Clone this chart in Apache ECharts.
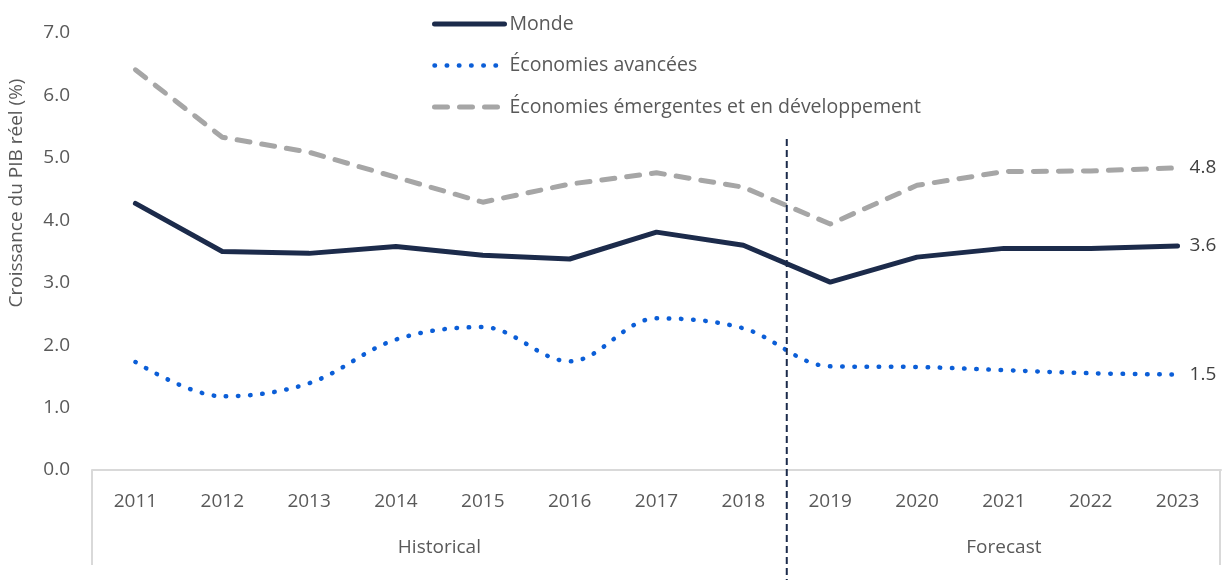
<!DOCTYPE html>
<html><head><meta charset="utf-8">
<script src="https://cdn.jsdelivr.net/npm/echarts@6/dist/echarts.min.js"></script>
<style>html,body{margin:0;padding:0;background:#fff}#c{width:1225px;height:580px}</style>
</head><body><div id="c"></div>
<script>
const years = ['2011','2012','2013','2014','2015','2016','2017','2018','2019','2020','2021','2022','2023'];
const monde = [4.27,3.50,3.47,3.58,3.44,3.38,3.81,3.60,3.01,3.41,3.55,3.55,3.59];
const avancees = [1.73,1.18,1.39,2.09,2.29,1.74,2.43,2.27,1.66,1.65,1.60,1.55,1.53];
const emergentes = [6.41,5.33,5.09,4.69,4.29,4.58,4.76,4.53,3.94,4.56,4.78,4.79,4.84];
const seriesNames = ['Monde','Économies avancées','Économies émergentes et en développement'];
const yTicks = [0,1,2,3,4,5,6,7];
const groups = [{name:'Historical', from:'2011', to:'2018'},{name:'Forecast', from:'2019', to:'2023'}];
const yTitle = 'Croissance du PIB réel (%)';

const FONT = '"Open Sans", "Noto Sans", sans-serif';
const TXT = '#595959';
const NAVY = '#1c2b4b', BLUE = '#0b5ed7', GRAY = '#a6a6a6';

const chart = echarts.init(document.getElementById('c'), null, {renderer:'canvas'});
const endLabel = () => ({show:true, formatter: p => Number(p.value).toFixed(1), distance: 12, fontSize: 19, fontFamily: FONT, color: '#404040'});

const styles = [
  {color:NAVY, width:5, type:'solid'},
  {color:BLUE, width:4.5, type:[0.5,11.7]},
  {color:GRAY, width:5, type:[13,12]}
];

chart.setOption({
  animation:false,
  textStyle:{fontFamily:FONT},
  grid:{left:92, right:4, top:33, bottom:110, containLabel:false},
  legend:{
    orient:'vertical', left:427, top:9, itemWidth:70, itemHeight:20, itemGap:21.5,
    textStyle:{fontSize:19.5, color:TXT, fontFamily:FONT, lineHeight:20},
    itemStyle:{opacity:0},
    data: seriesNames.map((n, i) => ({name:n, itemStyle:{opacity:0},
      lineStyle:{color:styles[i].color, width:styles[i].width, type:styles[i].type, cap:'round'}}))
  },
  xAxis:{
    type:'category', data: years, boundaryGap:true,
    axisLine:{show:true, lineStyle:{color:'#d9d9d9', width:2}},
    axisTick:{show:false},
    axisLabel:{fontSize:19, color:TXT, margin:22, fontFamily:FONT}
  },
  yAxis:{
    type:'value', min:yTicks[0], max:yTicks[yTicks.length-1], interval:1,
    axisLine:{show:false}, axisTick:{show:false}, splitLine:{show:false},
    axisLabel:{fontSize:19, color:TXT, margin:22, fontFamily:FONT, formatter: v => v.toFixed(1)}
  },
  series:[
    {name:seriesNames[0], type:'line', data:monde, symbol:'none', z:3,
     lineStyle:{color:NAVY, width:5, cap:'round', join:'round'}, itemStyle:{color:NAVY},
     endLabel: endLabel()},
    {name:seriesNames[1], type:'line', data:avancees, symbol:'none', smooth:0.35, z:2,
     lineStyle:{color:BLUE, width:4.5, type:[0.5,11.7], cap:'round'}, itemStyle:{color:BLUE},
     endLabel: endLabel()},
    {name:seriesNames[2], type:'line', data:emergentes, symbol:'none', z:1,
     lineStyle:{color:GRAY, width:5, type:[13,12], cap:'round', join:'round'}, itemStyle:{color:GRAY},
     endLabel: endLabel()}
  ]
});

function buildGraphics(){
  const x0 = chart.convertToPixel({xAxisIndex:0}, years[0]);
  const x1 = chart.convertToPixel({xAxisIndex:0}, years[1]);
  const half = (x1 - x0)/2;
  const yBase = chart.convertToPixel({yAxisIndex:0}, 0);
  const yTop = chart.convertToPixel({yAxisIndex:0}, yTicks[yTicks.length-1]);
  const els = [];
  const leftEdge = x0 - half;
  const rightEdge = chart.convertToPixel({xAxisIndex:0}, years[years.length-1]) + half;
  els.push({type:'line', shape:{x1:leftEdge, y1:yBase, x2:leftEdge, y2:yBase+95}, style:{stroke:'#d9d9d9', lineWidth:2}});
  els.push({type:'line', shape:{x1:rightEdge-1, y1:yBase, x2:rightEdge-1, y2:yBase+95}, style:{stroke:'#d9d9d9', lineWidth:2}});
  groups.forEach((g, i) => {
    const a = chart.convertToPixel({xAxisIndex:0}, g.from) - half;
    const b = chart.convertToPixel({xAxisIndex:0}, g.to) + half;
    els.push({type:'text', x:(a+b)/2, y:yBase+78, style:{text:g.name, fill:TXT, font:'19px ' + FONT, align:'center', verticalAlign:'middle'}});
    if (i > 0) {
      els.push({type:'line', z:10, shape:{x1:a, y1:yTop+106, x2:a, y2:580}, style:{stroke:NAVY, lineWidth:2, lineDash:[7,4]}});
    }
  });
  els.push({type:'text', x:17, y:193, rotation:Math.PI/2, style:{text:yTitle, fill:TXT, font:'19px ' + FONT, align:'center', verticalAlign:'middle'}});
  chart.setOption({graphic:els});
}
buildGraphics();
</script>
</body></html>
